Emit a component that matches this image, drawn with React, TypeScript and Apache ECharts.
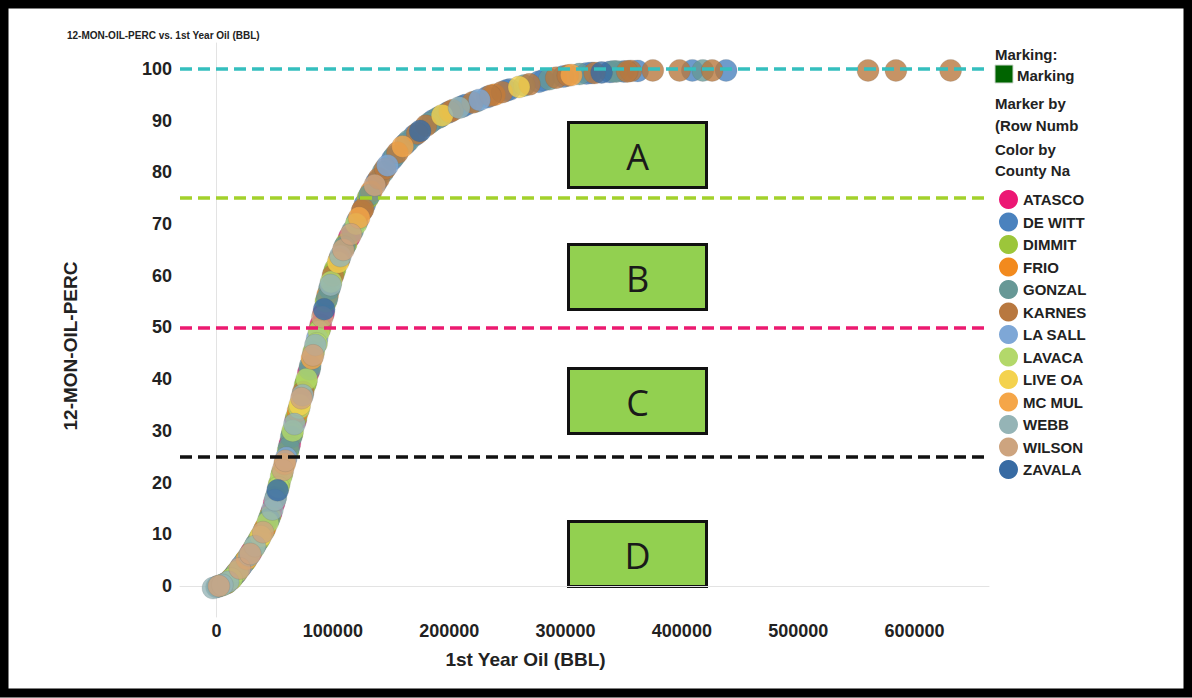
import React, { useEffect, useRef } from "react";
import * as echarts from "echarts";

const counties = [
  "ATASCO", "DE WITT", "DIMMIT", "FRIO", "GONZAL", "KARNES", "LA SALL",
  "LAVACA", "LIVE OA", "MC MUL", "WEBB", "WILSON", "ZAVALA",
];
const countyColors = [
  "#EC1774", "#4A82BE", "#9CC63A", "#F28A1E", "#679896", "#B8783F", "#7EA7D6",
  "#B3D86A", "#F4D24E", "#F5A648", "#95B4B6", "#CDA47F", "#386BA3",
];

// 1st Year Oil (BBL), 12-MON-OIL-PERC, county of each well
const oilBbl = [
  -3000, 0, 2000, 4000, 6000, 8000, 10000, 12000, 14000, 16000,
  18000, 20000, 22000, 24000, 26000, 28000, 30000, 32000, 34000, 36000,
  38000, 40000, 42000, 44000, 46000, 48000, 49500, 51000, 52500, 54000,
  55500, 57000, 58500, 60000, 61500, 63000, 64200, 65500, 67000, 68500,
  70000, 71500, 73000, 74500, 76000, 77500, 79000, 80500, 82000, 83500,
  85000, 86500, 88000, 89500, 91000, 92500, 94000, 95500, 97000, 98500,
  100000, 102000, 104500, 106500, 109000, 111500, 114000, 117000, 120000, 122500,
  125000, 127500, 130000, 133000, 136000, 139500, 143000, 147000, 151000, 155500,
  160000, 165000, 170000, 175000, 180000, 186000, 190000, 194000, 198500, 203000,
  208500, 214000, 220000, 226000, 232500, 239000, 245500, 252000, 260000, 269000,
  277000, 286000, 292000, 298000, 305000, 312000, 318000, 325000, 331000, 338000,
  344000, 350000, 356000, 362000, 375000, 398000, 409000, 418000, 426000, 438000,
  560000, 584000, 631000,
  1000, 5000, 9000, 13000, 17000, 21000, 25000, 29000, 33000, 37000,
  41000, 45000, 47000, 50200, 53200, 56200, 59200, 62200, 65000, 68000,
  71000, 74000, 77000, 80000, 83000, 86000, 89000, 92000, 95000, 98000,
  101000, 105500, 110000, 115500, 121000, 126000, 131500, 137500, 145000, 153000,
  162500, 172500, 183000, 192000, 200500, 211000, 223000, 235500, 249000, 264500,
  281000, 302000, 322000, 341000, 353000,
];
const monOilPerc = [
  -0.4, -0.2, 0, 0.1, 0.3, 0.5, 0.8, 1.2, 1.7, 2.2,
  2.8, 3.4, 4.0, 4.6, 5.2, 5.9, 6.6, 7.3, 8.1, 8.8,
  9.6, 10.4, 11.3, 12.3, 13.5, 14.8, 16, 17.2, 18.5, 19.8,
  21.1, 22.4, 23.6, 24.8, 26.1, 27.5, 28.8, 30, 31.3, 32.6,
  33.8, 35, 36.3, 37.5, 38.8, 40, 41.3, 42.6, 44, 45.3,
  46.6, 47.9, 49.2, 50.5, 52, 53.5, 55, 56.3, 57.5, 58.8,
  60, 61.3, 62.6, 63.8, 65, 66.2, 67.4, 68.7, 70, 71.2,
  72.5, 73.8, 75, 76.3, 77.5, 78.8, 80, 81.3, 82.5, 83.8,
  85, 86.1, 87.1, 88, 89, 90, 90.5, 91, 91.5, 92,
  92.5, 93, 93.5, 94, 94.5, 95, 95.5, 96, 96.5, 97,
  97.5, 98, 98.3, 98.5, 98.8, 99, 99.1, 99.2, 99.3, 99.4,
  99.5, 99.5, 99.6, 99.6, 99.7, 99.7, 99.7, 99.7, 99.7, 99.7,
  99.7, 99.7, 99.7,
  -0.1, 0.2, 0.6, 1.4, 2.5, 3.7, 4.9, 6.2, 7.7, 9.2,
  10.8, 12.9, 14.1, 16.6, 19.1, 21.7, 24.2, 26.8, 29.4, 32,
  34.4, 36.9, 39.4, 41.9, 44.6, 46.9, 49.8, 52.7, 55.6, 58.2,
  60.6, 63.2, 65.6, 68, 70.6, 72.9, 75.6, 78.1, 80.7, 83.1,
  85.5, 87.5, 89.5, 90.7, 91.7, 92.7, 93.7, 94.8, 95.8, 96.8,
  97.8, 98.7, 99.2, 99.5, 99.5,
];
const wellCounty = [
  "WEBB", "GONZAL", "WILSON", "DIMMIT", "LAVACA", "ATASCO", "WEBB", "FRIO", "DIMMIT", "GONZAL",
  "LAVACA", "WILSON", "LA SALL", "DIMMIT", "MC MUL", "WEBB", "ATASCO", "LAVACA", "GONZAL", "DIMMIT",
  "LIVE OA", "WILSON", "FRIO", "LAVACA", "DIMMIT", "WEBB", "ATASCO", "GONZAL", "ZAVALA", "DIMMIT",
  "LAVACA", "WILSON", "MC MUL", "LA SALL", "DIMMIT", "ATASCO", "GONZAL", "LAVACA", "WEBB", "DIMMIT",
  "FRIO", "LIVE OA", "WILSON", "KARNES", "DIMMIT", "LAVACA", "ATASCO", "GONZAL", "MC MUL", "DIMMIT",
  "WEBB", "LA SALL", "LAVACA", "ATASCO", "WILSON", "ZAVALA", "DIMMIT", "FRIO", "GONZAL", "LAVACA",
  "KARNES", "DIMMIT", "LIVE OA", "WEBB", "WILSON", "DIMMIT", "ATASCO", "GONZAL", "LAVACA", "MC MUL",
  "KARNES", "DE WITT", "DIMMIT", "FRIO", "WILSON", "KARNES", "GONZAL", "LA SALL", "DE WITT", "KARNES",
  "MC MUL", "GONZAL", "DE WITT", "ZAVALA", "KARNES", "DE WITT", "GONZAL", "LIVE OA", "DE WITT", "KARNES",
  "WEBB", "DE WITT", "KARNES", "LA SALL", "DE WITT", "FRIO", "KARNES", "DE WITT", "LIVE OA", "KARNES",
  "DE WITT", "GONZAL", "KARNES", "DE WITT", "MC MUL", "GONZAL", "DE WITT", "KARNES", "ZAVALA", "DE WITT",
  "GONZAL", "DE WITT", "KARNES", "DE WITT", "KARNES", "KARNES", "DE WITT", "GONZAL", "KARNES", "DE WITT",
  "KARNES", "KARNES", "KARNES",
  "GONZAL", "WEBB", "DIMMIT", "LAVACA", "ATASCO", "GONZAL", "DIMMIT", "WILSON", "WEBB", "LAVACA",
  "DIMMIT", "GONZAL", "ATASCO", "WEBB", "LAVACA", "DIMMIT", "WILSON", "GONZAL", "DIMMIT", "ATASCO",
  "LAVACA", "WEBB", "DIMMIT", "GONZAL", "WILSON", "LAVACA", "DIMMIT", "ATASCO", "GONZAL", "WEBB",
  "DIMMIT", "KARNES", "GONZAL", "WILSON", "DE WITT", "KARNES", "GONZAL", "DE WITT", "KARNES", "GONZAL",
  "DE WITT", "KARNES", "GONZAL", "DE WITT", "KARNES", "DE WITT", "GONZAL", "KARNES", "DE WITT", "GONZAL",
  "DE WITT", "KARNES", "DE WITT", "GONZAL", "KARNES",
];

const xTicks = [0, 100000, 200000, 300000, 400000, 500000, 600000];
const yTicks = [0, 10, 20, 30, 40, 50, 60, 70, 80, 90, 100];
const thresholds = [100, 75, 50, 25];
const thresholdColors = ["#35BFBE", "#A3D12B", "#EC1A70", "#111111"];
const zoneLabels = ["A", "B", "C", "D"];
const legendNotes = ["Marking:", "Marking", "Marker by", "(Row Numb", "Color by", "County Na"];

const FONT = "'Liberation Sans', Arial, sans-serif";

export default function App() {
  const ref = useRef<HTMLDivElement>(null);

  useEffect(() => {
    if (!ref.current) return;
    const chart = echarts.init(ref.current, null, { renderer: "svg" });

    const countySeries = counties.map((name, ci) => ({
      type: "scatter",
      name,
      symbolSize: 22,
      itemStyle: {
        color: countyColors[ci],
        opacity: 0.8,
        borderColor: "rgba(90,90,90,0.25)",
        borderWidth: 0.8,
      },
      data: oilBbl
        .map((x, i) => [x, monOilPerc[i], wellCounty[i]])
        .filter((d) => d[2] === name)
        .map((d) => [d[0], d[1]]),
      z: 2,
    }));

    const lineSeries = {
      type: "scatter",
      name: "thresholds",
      data: [],
      z: 10,
      markLine: {
        silent: true,
        symbol: "none",
        label: { show: false },
        animation: false,
        data: thresholds.map((v, i) => ({
          yAxis: v,
          lineStyle: { color: thresholdColors[i], width: 3.5, type: [12, 6] },
        })),
      },
    };

    const boxTops = [121, 243, 367, 520];
    const graphics: any[] = [
      {
        type: "rect",
        shape: { x: 4, y: 4, width: 1184, height: 689 },
        style: { fill: "none", stroke: "#000", lineWidth: 9 },
        z: 100,
        silent: true,
      },
      {
        type: "rect",
        shape: { x: 995, y: 65, width: 18, height: 18 },
        style: { fill: "#006400", stroke: "#cfd8cf", lineWidth: 1 },
      },
    ];
    zoneLabels.forEach((lab, i) => {
      graphics.push({
        type: "group",
        left: 567,
        top: boxTops[i],
        children: [
          {
            type: "rect",
            shape: { x: 0, y: 0, width: 138, height: 65 },
            style: { fill: "#92D050", stroke: "#111", lineWidth: 3 },
          },
          {
            type: "text",
            x: 69,
            y: 34,
            style: {
              text: lab,
              font: "36px 'Open Sans', 'Noto Sans', sans-serif",
              fill: "#1a1a1a",
              textAlign: "center",
              textVerticalAlign: "middle",
            },
          },
        ],
      });
    });
    const noteY = [54, 75, 103, 125, 149, 170];
    legendNotes.forEach((t, i) => {
      graphics.push({
        type: "text",
        x: i === 1 ? 1017 : 995,
        y: noteY[i],
        style: {
          text: t,
          font: `bold 15px ${FONT}`,
          fill: "#222",
          textVerticalAlign: "middle",
        },
      });
    });

    chart.setOption({
      animation: false,
      backgroundColor: "#fff",
      title: {
        text: "12-MON-OIL-PERC vs. 1st Year Oil (BBL)",
        left: 62,
        top: 25,
        textStyle: { fontSize: 10, fontWeight: "bold", color: "#222", fontFamily: FONT },
      },
      grid: { left: 180, top: 43, right: 203, bottom: 81 },
      legend: {
        orient: "vertical",
        left: 994,
        top: 185,
        itemWidth: 19,
        itemHeight: 19,
        itemGap: 3.5,
        icon: "circle",
        data: counties,
        selectedMode: false,
        itemStyle: { opacity: 1, borderWidth: 0 },
        textStyle: { fontSize: 15, fontWeight: "bold", color: "#222", fontFamily: FONT, padding: [0, 0, 0, 0] },
      },
      xAxis: {
        type: "value",
        min: -31400,
        max: 664000,
        name: "1st Year Oil (BBL)",
        nameLocation: "middle",
        nameGap: 33,
        nameTextStyle: {
          fontSize: 19,
          fontWeight: "bold",
          color: "#222",
          fontFamily: FONT,
          padding: [0, 118, 0, 0],
        },
        axisLine: { show: true, lineStyle: { color: "#e3e3e3", width: 1 } },
        axisTick: { show: false },
        splitLine: { show: false },
        axisLabel: {
          customValues: xTicks,
          formatter: (v: number) => String(v),
          fontSize: 18,
          fontWeight: "bold",
          color: "#222",
          fontFamily: FONT,
          margin: 5,
        },
      },
      yAxis: {
        type: "value",
        min: -6,
        max: 105,
        name: "12-MON-OIL-PERC",
        nameLocation: "middle",
        nameGap: 100,
        nameTextStyle: {
          fontSize: 19,
          fontWeight: "bold",
          color: "#222",
          fontFamily: FONT,
          padding: [0, 32, 0, 0],
        },
        axisLine: { show: true, lineStyle: { color: "#e3e3e3", width: 1 } },
        axisTick: { show: false },
        splitLine: { show: false },
        axisLabel: {
          customValues: yTicks,
          formatter: (v: number) => String(v),
          fontSize: 18,
          fontWeight: "bold",
          color: "#222",
          fontFamily: FONT,
          margin: 8,
        },
      },
      graphic: graphics,
      series: [...countySeries, lineSeries],
    });

    return () => chart.dispose();
  }, []);

  return (
    <div
      ref={ref}
      style={{ position: "absolute", left: 0, top: 0, width: 1192, height: 698 }}
    />
  );
}
